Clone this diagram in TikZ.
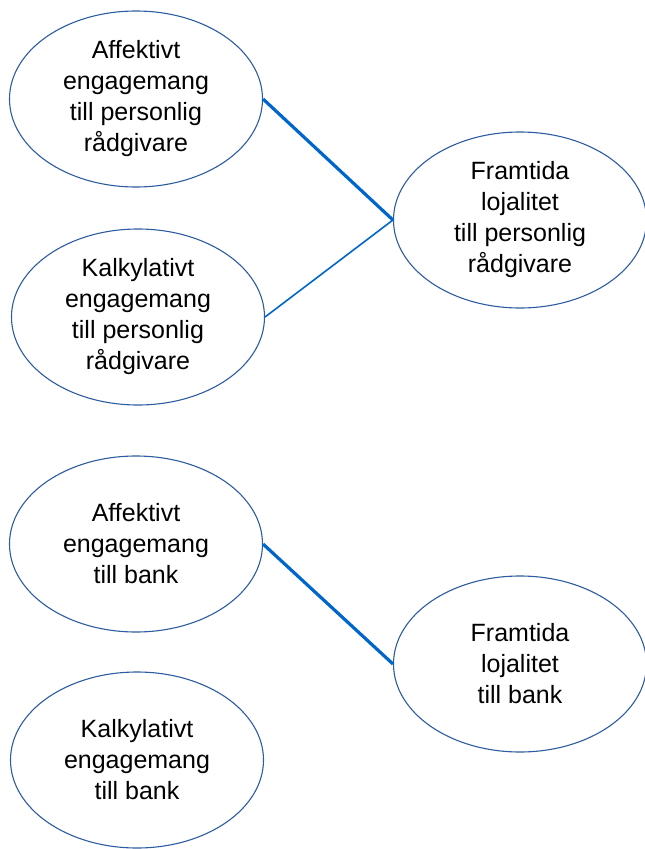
\documentclass[tikz,border=0pt]{standalone}
\usepackage{fontspec}
\setmainfont{Liberation Sans}
\usetikzlibrary{shapes.geometric}
\definecolor{ringblue}{RGB}{46,92,160}
\definecolor{linkblue}{RGB}{0,102,204}
\begin{document}
\begin{tikzpicture}[x=1pt,y=-1pt,
  oval/.style={ellipse, draw=ringblue, line width=1.1pt, fill=white,
    minimum width=253pt, minimum height=176pt, inner sep=0pt,
    align=center, font=\fontsize{25}{31}\selectfont},
  strong/.style={draw=linkblue, line width=3.2pt},
  weak/.style={draw=linkblue, line width=1.6pt}]
\useasboundingbox (0,0) rectangle (645,849);
\node[oval] (a1) at (136,99) {Affektivt\\engagemang\\till personlig\\rådgivare};
\node[oval] (k1) at (138,317) {Kalkylativt\\engagemang\\till personlig\\rådgivare};
\node[oval] (f1) at (520,220) {Framtida\\lojalitet\\till personlig\\rådgivare};
\node[oval] (a2) at (136,544) {Affektivt\\engagemang\\till bank};
\node[oval] (f2) at (520,664) {Framtida\\lojalitet\\till bank};
\node[oval] (k2) at (137,760) {Kalkylativt\\engagemang\\till bank};
\draw[strong] (a1.east) -- (f1.west);
\draw[weak] (k1.east) -- (f1.west);
\draw[strong] (a2.east) -- (f2.west);
\end{tikzpicture}
\end{document}
